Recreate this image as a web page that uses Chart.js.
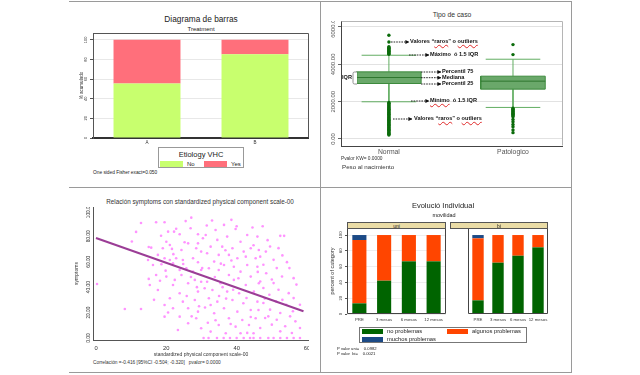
<!DOCTYPE html>
<html><head><meta charset="utf-8">
<script src="https://cdn.jsdelivr.net/npm/chart.js@4.4.1/dist/chart.umd.min.js"></script>
<style>
html,body{margin:0;padding:0;background:#fff;}
body{width:640px;height:375px;position:relative;overflow:hidden;font-family:'Liberation Sans',Arial,sans-serif;}
.t{position:absolute;white-space:pre;line-height:1;color:#222;}
.c{transform:translate(-50%,-50%);}
.l{transform:translate(0,-50%);}
canvas{position:absolute;}
.hl{position:absolute;height:1px;background:#9a9a9a;}
.vl{position:absolute;width:1px;background:#9a9a9a;}
.box{position:absolute;box-sizing:border-box;background:#fff;}
.sw{position:absolute;}
.b{font-weight:bold;color:#111;}
.sp{text-decoration:underline wavy #e02828;text-decoration-thickness:0.7px;text-underline-offset:1px;}
svg{position:absolute;left:0;top:0;}
</style></head><body>

<!-- table lines -->
<div class="hl" style="left:69px;top:1px;width:503px"></div>
<div class="hl" style="left:69px;top:187px;width:503px"></div>
<div class="hl" style="left:69px;top:372px;width:503px"></div>
<div class="vl" style="left:320px;top:1px;height:372px"></div>
<div class="vl" style="left:571px;top:1px;height:372px"></div>

<!-- Panel A -->
<canvas id="cA" width="230" height="115" style="left:79px;top:33px"></canvas>
<div class="t c" style="left:201px;top:19px;font-size:8.3px">Diagrama de barras</div>
<div class="t c" style="left:201px;top:29px;font-size:6px">Treatment</div>
<div class="box" style="left:158px;top:147px;width:86px;height:21px;border:1px solid #999"></div>
<div class="t c" style="left:201px;top:154.5px;font-size:7.5px">Etiology VHC</div>
<div class="sw" style="left:160px;top:161px;width:23px;height:6px;background:#c8ff6e"></div>
<div class="t l" style="left:187px;top:164px;font-size:6px">No</div>
<div class="sw" style="left:204px;top:161px;width:23px;height:6px;background:#ff6f7b"></div>
<div class="t l" style="left:231px;top:164px;font-size:6px">Yes</div>
<div class="t l" style="left:93px;top:173px;font-size:4.8px">One sided Fisher exact=0.050</div>

<!-- Panel B -->
<canvas id="cB" width="240" height="139" style="left:323px;top:21px"></canvas>
<div class="t c" style="left:452px;top:15px;font-size:6.8px;color:#333">Tipo de caso</div>
<div class="t l" style="left:341px;top:159px;font-size:4.8px;color:#333">Pvalor KW= 0.0000</div>
<div class="t l" style="left:342px;top:167px;font-size:6.2px;color:#333">Peso al nacimiento</div>

<!-- Panel C -->
<canvas id="cC" width="235" height="151" style="left:74px;top:207px"></canvas>
<div class="t c" style="left:200px;top:202px;font-size:6.3px;color:#333">Relación symptoms con standardized physical component scale-00</div>
<div class="t l" style="left:93px;top:363px;font-size:4.8px;color:#333">Correlación =-0.416 [95%CI -0.504; -0.320]   pvalor= 0.0000</div>

<!-- Panel D -->
<canvas id="cD" width="117" height="98" style="left:329px;top:228px"></canvas>
<canvas id="cE" width="98" height="98" style="left:450px;top:228px"></canvas>
<div class="t c" style="left:443px;top:206px;font-size:7.5px">Evolució Individual</div>
<div class="t c" style="left:444px;top:216px;font-size:5.5px">movilidad</div>
<div class="box" style="left:347px;top:222px;width:99px;height:7px;border:1px solid #555;background:#eadca6"></div>
<div class="t c" style="left:396.5px;top:225.5px;font-size:5px">uni</div>
<div class="box" style="left:450px;top:222px;width:98px;height:7px;border:1px solid #555;background:#eadca6"></div>
<div class="t c" style="left:499px;top:225.5px;font-size:5px">bi</div>
<div class="box" style="left:359px;top:327px;width:168px;height:16px;border:1px solid #777"></div>
<div class="sw" style="left:362px;top:329px;width:21px;height:5px;background:#006400"></div>
<div class="t l" style="left:387px;top:331.5px;font-size:5.8px">no problemas</div>
<div class="sw" style="left:447px;top:329px;width:21px;height:5px;background:#ff4500"></div>
<div class="t l" style="left:472px;top:331.5px;font-size:5.8px">algunos problemas</div>
<div class="sw" style="left:362px;top:337px;width:21px;height:5px;background:#1c4a86"></div>
<div class="t l" style="left:387px;top:339.5px;font-size:5.8px">muchos problemas</div>
<div class="t l" style="left:337px;top:349px;font-size:4.2px">P valor uni=    0.0982</div>
<div class="t l" style="left:337px;top:354px;font-size:4.2px">P valor  bi=    0.0021</div>

<!-- annotations for box plot -->
<svg width="640" height="375" viewBox="0 0 640 375">
<defs><marker id="ah" markerWidth="4" markerHeight="4" refX="3.6" refY="2" orient="auto" markerUnits="userSpaceOnUse"><path d="M0,0 L4,2 L0,4 z" fill="#111"/></marker></defs>
<g stroke="#111" stroke-width="0.9" stroke-dasharray="1.6,1" marker-end="url(#ah)">
<line x1="391" y1="42" x2="409" y2="42"/>
<line x1="409" y1="55" x2="429" y2="55"/>
<line x1="421" y1="72" x2="441" y2="72"/>
<line x1="421" y1="77.7" x2="441" y2="77.7"/>
<line x1="421" y1="84" x2="441" y2="84"/>
<line x1="411" y1="101" x2="429" y2="101"/>
<line x1="393" y1="119" x2="412" y2="119"/>
</g>
<path d="M357,72 H354.5 Q353,72 353,73.5 V82.5 Q353,84 354.5,84 H357" fill="#fff" stroke="#777" stroke-width="0.8"/>
</svg>
<div class="t l b" style="left:410px;top:42px;font-size:5.6px">Valores “<span class="sp">raros</span>” o <span class="sp">outliers</span></div>
<div class="t l b" style="left:430px;top:55px;font-size:5.6px">Máximo  ó 1.5 IQR</div>
<div class="t l b" style="left:442px;top:72px;font-size:5.6px">Percentil 75</div>
<div class="t l b" style="left:442px;top:77.7px;font-size:5.6px">Mediana</div>
<div class="t l b" style="left:442px;top:84px;font-size:5.6px">Percentil 25</div>
<div class="t l b" style="left:430px;top:101px;font-size:5.6px"><span class="sp">Mínimo</span>  ó 1.5 IQR</div>
<div class="t l b" style="left:414px;top:119px;font-size:5.6px">Valores “<span class="sp">raros</span>” o <span class="sp">outliers</span></div>
<div class="t l b" style="left:342px;top:77.7px;font-size:5.6px">IQR</div>

<script>
// ---------------- DATA ----------------
const treatCategories = ['A', 'B'];
const etioNo = [55.6, 85.3];
const etioYes = [44.4, 14.7];
const pctTicks = [0, 20, 40, 60, 80, 100];

const boxCategories = ['Normal', 'Patologico'];
const boxQ1 = [2973, 2671];
const boxMedian = [3294, 3098];
const boxQ3 = [3596, 3365];
const whiskerLow = [1994, 1691];
const whiskerHigh = [4487, 4273];
const outliersNormal = [5560, 5200, 4940, 4900, 4860, 4820, 4780, 4740, 4700, 4660, 4620, 4580, 4540,
  1960, 1910, 1870, 1820, 1780, 1730, 1690, 1640, 1600, 1550, 1510, 1460, 1420, 1370, 1330, 1280, 1240,
  1190, 1150, 1100, 1060, 1010, 970, 920, 880, 830, 790, 740, 700, 650, 610, 560, 520, 470, 430, 380,
  340, 300, 260, 215];
const outliersPatologico = [5056, 4522, 1650, 1600, 1560, 1510, 1470, 1420, 1380, 1330, 1290, 1240,
  1190, 1050, 925, 780, 660, 480, 340];
const weightTicks = [0, 2000, 4000, 6000];

const symptomsPoints = [
  [0.3,42.5],[8.2,22.8],[12.8,22.8],[12.8,90.5],[11.4,83.5],[10.2,76],[15,71.6],[14.8,61.4],[15,46.5],
  [17.1,91.1],[19.5,91.1],[27.1,94.7],[26.9,86.4],[20.5,83.7],[22.2,83.7],[23.8,81.6],[29,81.6],[30.4,78.5],
  [20,75.8],[21,73.2],[25.2,75.3],[26.2,74.5],[29,74.5],[19,70.6],[21.6,70.1],[24.3,69.3],[28.5,70.6],
  [29.9,68],[15.7,71.1],[17.6,65.4],[19.5,62.8],[21,61.4],[22.8,62.8],[24.7,61.4],[27.6,62.8],[29,59.6],
  [16.2,57.5],[18.6,58],[21.9,58.8],[23.8,53.5],[25.7,54.9],[27.6,52.2],[29.9,53.5],[17.1,49.6],[20,48.3],
  [22.4,45.7],[24.3,49.6],[28.1,45.7],[29.9,44.3],[15.3,41.7],[21.9,41.7],[26.2,43.1],[30.9,39.1],
  [17.6,37.8],[23.8,35.2],[29,36.5],[21,31.3],[24.7,28.6],[28.1,29.9],[19.5,26],[26.2,23.4],[29,20.7],
  [23.8,16.8],[21.9,23.4],[28.5,15.5],[19.5,16.8],[23.3,6.3],[26.2,11.6],[29.9,7.6],
  [36.4,89],[39.7,85.8],[34,85],[31.2,81.1],[43,81.1],[45.9,79.8],[37.3,79.8],[34.5,77.2],[41.1,75.8],
  [32.6,71.9],[35.9,71.9],[38.8,70.6],[44,70.6],[46.3,69.3],[31.6,66.7],[34.9,65.4],[37.8,65.4],
  [40.2,62.8],[42.6,64],[45.4,62.8],[33.6,60.1],[36.4,57.5],[39.2,56.1],[43,57.5],[45.9,56.1],[32.1,54.9],
  [34.9,53.5],[41.1,52.2],[37.8,49.6],[44,48.3],[31.6,44.3],[35.4,43.1],[39.2,45.7],[42.6,41.7],[46.3,43.1],
  [33.1,37.8],[37.3,36.5],[40.7,35.2],[44.9,36.5],[32.1,31.3],[34.5,28.6],[38.8,29.9],[41.9,27.3],
  [45.9,28.6],[32.6,26],[36.4,23.4],[40.2,20.7],[44,22],[33.6,19.4],[37.8,15.5],[41.6,14.2],[45.4,15.5],
  [34.9,10.2],[39.7,8.9],[43.5,10.2],[32.6,5],[36.9,3.7],[41.1,3.7],[44.8,3.7],
  [30.6,0],[32,0],[34.4,0],[36.3,0],[38.1,0],[40,0],[42,0],[43.8,0],[44.8,0],[46.7,0],[49,0],[50.5,0],
  [52.4,0],[54.3,0],[56.2,0],[58,0],
  [47.4,88],[52.4,80.4],[53.5,80.4],[49.5,72],[48.3,68],[51.9,70.7],[46.7,64],[50.5,61.5],[54.3,59.7],
  [47.6,57.6],[51.4,55],[48.4,51],[52.9,48.4],[56.2,47.1],[46.7,44.5],[50.5,43.2],[47.6,39.3],[51.9,38],
  [54.8,35.3],[49.3,34],[56.2,31.4],[51.2,28.8],[47.6,27.5],[54.1,26.2],[58,26.2],[49.5,22.3],[52.4,19.6],
  [55.2,17],[48.1,15.7],[51.4,14.4],[56.7,13.1],[50,10.5],[53.8,9.2],[58,7.9],[46.7,7.9],[52.4,5.2],[55.7,3.9],
  [18.5,80.5],[22.8,86],[25.5,92],[31.5,88.5],[33,92.5],[38.5,93],[44.5,87],[35.5,58.5],[38.5,61],[42,68],
  [44.8,73],[46,52],[40.5,47],[36,40],[33.8,48],[30.2,55],[27,48],[24.8,58.2],[22,66],[19.8,53],[18.2,45],
  [16.5,30],[20.5,20],[25.8,33],[28.7,40],[31,24],[34,14],[37,31],[39,38],[42.8,31.5],[44,16.5],[46.2,22],
  [43,4],[38.3,11],[35,33],[31.8,12],[29.3,25],[27.2,17],[36.8,69],[40,88],[48.8,77],[53,65],[55,55],
  [57,42],[50,46],[48,31],[53,30],[56,21],[49,17]
];
const fitX = [0, 59];
const fitY = [78.7, 21.0];
const pcsTicks = [0, 20, 40, 60];
const symptomsTicks = [0, 20, 40, 60, 80, 100];

const evoCategories = ['PRE', '3 mesos', '6 mesos', '12 mesos'];
const uniNo = [13.5, 42.2, 66.7, 66.7];
const uniAlgunos = [80.2, 57.8, 33.3, 33.3];
const uniMuchos = [6.3, 0, 0, 0];
const biNo = [17.3, 65.0, 73.8, 84.4];
const biAlgunos = [78.5, 35.0, 26.2, 15.6];
const biMuchos = [4.2, 0, 0, 0];

// ---------------- HELPERS ----------------
const FAM = "'Liberation Sans', Arial, sans-serif";
Chart.defaults.font.family = FAM;
Chart.defaults.color = '#333';
Chart.defaults.animation = false;
Chart.defaults.responsive = false;
Chart.defaults.plugins.legend.display = false;
Chart.defaults.plugins.tooltip.enabled = false;
Chart.defaults.layout.autoPadding = false;

const mctx = document.createElement('canvas').getContext('2d');
function textW(s, size) { mctx.font = size + 'px ' + FAM; return mctx.measureText(s).width; }
function fixY(w) { return s => { s.width = w; s.paddingTop = 0; s.paddingBottom = 0; s.paddingLeft = 0; s.paddingRight = 0; }; }
function fixX(h) { return s => { s.height = h; s.paddingLeft = 0; s.paddingRight = 0; s.paddingTop = 0; s.paddingBottom = 0; }; }
function setTicks(arr) { return s => { s.ticks = arr.map(v => ({ value: v })); }; }
function rotTicks(labels, size, d, tl, color) {
  const widest = Math.max(...labels.map(l => textW(l, size)));
  return { minRotation: 90, maxRotation: 90, crossAlign: 'center', autoSkip: false,
    padding: d - tl - widest / 2, font: { size }, color: color || '#333' };
}
const framePlugin = {
  id: 'frame',
  afterDraw(chart, args, o) {
    if (!o || !o.color) return;
    const { ctx, chartArea: a } = chart;
    ctx.save(); ctx.strokeStyle = o.color; ctx.lineWidth = o.width || 1;
    ctx.beginPath();
    const L = a.left + 0.5, R = a.right - 0.5, T = a.top + 0.5, B = a.bottom - 0.5;
    if (o.all) { ctx.moveTo(L, B); ctx.lineTo(L, T); } else { ctx.moveTo(L, T); }
    ctx.lineTo(R, T); ctx.lineTo(R, B);
    if (o.all) ctx.lineTo(L, B);
    ctx.stroke(); ctx.restore();
  }
};
Chart.register(framePlugin);

// ---------------- PANEL A ----------------
const pctLabels = pctTicks.map(String);
new Chart(document.getElementById('cA'), {
  type: 'bar',
  data: { labels: treatCategories, datasets: [
    { data: etioNo, backgroundColor: '#c8ff6e', borderWidth: 0, categoryPercentage: 1, barPercentage: 0.62 },
    { data: etioYes, backgroundColor: '#ff6f7b', borderWidth: 0, categoryPercentage: 1, barPercentage: 0.62 }
  ] },
  options: {
    plugins: { frame: { color: '#555', width: 1 } },
    scales: {
      x: { stacked: true, grid: { display: false, drawTicks: false }, border: { color: '#333', width: 2 },
        ticks: { font: { size: 4.5 }, color: '#333', padding: 2, minRotation: 0, maxRotation: 0 }, afterFit: fixX(10) },
      y: { stacked: true, min: 0, max: 107, afterBuildTicks: setTicks(pctTicks),
        grid: { color: '#e8e8e8', tickColor: '#555', tickLength: 3 }, border: { color: '#555' },
        ticks: rotTicks(pctLabels, 4, 7, 3),
        title: { display: true, text: '% acumulado', font: { size: 4.5 }, padding: 0, color: '#333' },
        afterFit: fixY(14) }
    }
  }
});

// ---------------- PANEL B ----------------
const HW = 0.26, CW = 0.22;
function seg(pts, color, w, order) {
  return { type: 'line', data: pts.map(p => ({ x: p[0], y: p[1] })), borderColor: color, borderWidth: w,
    pointRadius: 0, fill: false, showLine: true, order };
}
const bSets = [];
boxCategories.forEach((c, i) => {
  const outs = i === 0 ? outliersNormal : outliersPatologico;
  bSets.push({ type: 'scatter', data: outs.map(v => ({ x: i, y: v })), pointRadius: 1.7,
    backgroundColor: '#0b6b0b', borderWidth: 0, order: 1 });
  bSets.push({ type: 'line', data: [{ x: i - HW, y: boxQ3[i] }, { x: i + HW, y: boxQ3[i] }],
    fill: { value: boxQ1[i] }, backgroundColor: '#6aa86a', borderWidth: 0, pointRadius: 0, showLine: true, order: 6 });
  bSets.push(seg([[i - HW, boxQ1[i]], [i + HW, boxQ1[i]], [i + HW, boxQ3[i]], [i - HW, boxQ3[i]], [i - HW, boxQ1[i]]], '#3d8a3d', 1, 4));
  bSets.push(seg([[i - HW, boxMedian[i]], [i + HW, boxMedian[i]]], '#2f772f', 1, 3));
  bSets.push(seg([[i, boxQ3[i]], [i, whiskerHigh[i]]], '#62ad62', 1, 4));
  bSets.push(seg([[i, boxQ1[i]], [i, whiskerLow[i]]], '#62ad62', 1, 4));
  bSets.push(seg([[i - CW, whiskerHigh[i]], [i + CW, whiskerHigh[i]]], '#62ad62', 1, 4));
  bSets.push(seg([[i - CW, whiskerLow[i]], [i + CW, whiskerLow[i]]], '#62ad62', 1, 4));
});
const weightLabels = weightTicks.map(v => v.toFixed(2));
new Chart(document.getElementById('cB'), {
  type: 'scatter',
  data: { datasets: bSets },
  options: {
    plugins: { frame: { color: '#b5b5b5', width: 1 } },
    scales: {
      x: { type: 'linear', min: -0.386, max: 1.403, afterBuildTicks: setTicks(boxCategories.map((c, i) => i)),
        ticks: { callback: v => boxCategories[v], font: { size: 6.8 }, color: '#555', padding: 2, minRotation: 0, maxRotation: 0 },
        grid: { display: false, drawTicks: false }, border: { color: '#444' }, afterFit: fixX(14) },
      y: { min: -375, max: 6321, afterBuildTicks: setTicks(weightTicks),
        ticks: Object.assign(rotTicks(weightLabels, 6, 8, 3, '#555'), { callback: v => v.toFixed(2) }),
        grid: { color: '#e2e2e2', tickColor: '#666', tickLength: 3 }, border: { color: '#444' }, afterFit: fixY(18) }
    }
  }
});

// ---------------- PANEL C ----------------
const symLabels = symptomsTicks.map(v => v.toFixed(2));
new Chart(document.getElementById('cC'), {
  type: 'scatter',
  data: { datasets: [
    { type: 'line', data: fitX.map((x, i) => ({ x, y: fitY[i] })), borderColor: '#9b3d96', borderWidth: 2,
      pointRadius: 0, showLine: true, fill: false, order: 1 },
    { data: symptomsPoints.map(p => ({ x: p[0], y: p[1] })), pointRadius: 1.3,
      backgroundColor: 'rgba(255,120,255,0.8)', borderWidth: 0, order: 2 }
  ] },
  options: {
    scales: {
      x: { type: 'linear', min: -0.85, max: 60.57, afterBuildTicks: setTicks(pcsTicks),
        ticks: { callback: v => String(v), font: { size: 5.8 }, color: '#333', padding: 3, minRotation: 0, maxRotation: 0 },
        grid: { display: false, drawTicks: true, tickLength: 2, tickColor: '#555' }, border: { color: '#555' },
        title: { display: true, text: 'standardized physical component scale-00', font: { size: 5 }, padding: 0, color: '#333' },
        afterFit: fixX(18) },
      y: { min: -1.6, max: 103.1, afterBuildTicks: setTicks(symptomsTicks),
        ticks: Object.assign(rotTicks(symLabels, 4.8, 4.5, 2), { callback: v => v.toFixed(2) }),
        grid: { display: false, drawTicks: true, tickLength: 2, tickColor: '#555' }, border: { color: '#555' },
        title: { display: true, text: 'symptoms', font: { size: 5 }, padding: 0, color: '#333' },
        afterFit: fixY(19) }
    }
  }
});

// ---------------- PANEL D ----------------
function evoChart(id, no, alg, much, showY) {
  return new Chart(document.getElementById(id), {
    type: 'bar',
    data: { labels: evoCategories, datasets: [
      { data: no, backgroundColor: '#006400', borderWidth: 0, categoryPercentage: 1, barPercentage: 0.57 },
      { data: alg, backgroundColor: '#ff4500', borderWidth: 0, categoryPercentage: 1, barPercentage: 0.57 },
      { data: much, backgroundColor: '#1c4a86', borderWidth: 0, categoryPercentage: 1, barPercentage: 0.57 }
    ] },
    options: {
      plugins: { frame: { color: '#444', width: 1, all: true } },
      scales: {
        x: { stacked: true, grid: { display: false, drawTicks: false }, border: { display: false },
          ticks: { font: { size: 4.3 }, color: '#333', padding: 3.5, minRotation: 0, maxRotation: 0, autoSkip: false },
          afterFit: fixX(12) },
        y: { stacked: true, display: showY, min: 0, max: 108.9, afterBuildTicks: setTicks(pctTicks),
          grid: { color: '#eeeeee', tickColor: '#555', tickLength: 2 }, border: { display: false },
          ticks: rotTicks(pctLabels, 4.2, 6.3, 2),
          title: { display: true, text: 'percent of category', font: { size: 5.5 }, padding: 0, color: '#333' },
          afterFit: fixY(18) }
      }
    }
  });
}
evoChart('cD', uniNo, uniAlgunos, uniMuchos, true);
evoChart('cE', biNo, biAlgunos, biMuchos, false);
</script>
</body></html>
